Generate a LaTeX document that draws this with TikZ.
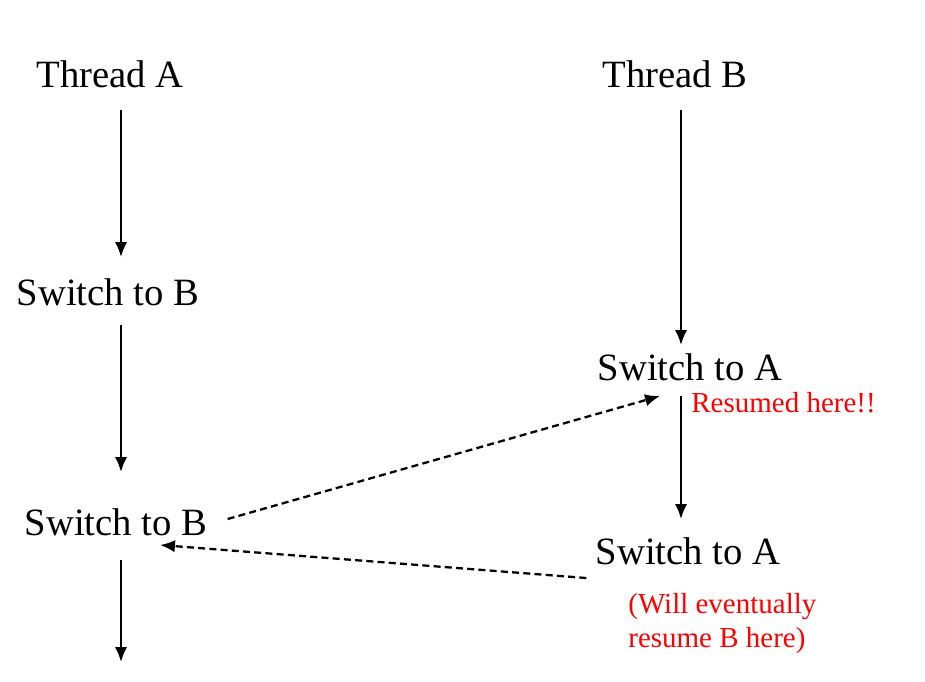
\documentclass[tikz,border=0pt]{standalone}
\usepackage{fontspec}
\setmainfont{Liberation Serif}
\usetikzlibrary{arrows.meta}
\begin{document}
\begin{tikzpicture}[x=0.02cm, y=-0.02cm,
% common options for the step labels:
label/.style = {inner sep=0, anchor=base, font=\fontsize{22}{26}\selectfont},
% common options for the red notes:
note/.style = {inner sep=0, anchor=base west, text=red, align=left,
            font=\fontsize{16.5}{18.8}\selectfont},
flow/.style = {-{Latex[length=8.5pt,width=7pt]}, line width=1.3pt},
jump/.style = {flow, dash pattern=on 4pt off 2.4pt}]
\useasboundingbox (0,0) rectangle (925,681);
\node[label] (thA) at (110,87) {Thread A};
\node[label] (thB) at (675,87) {Thread B};
\node[label] (swB1) at (108,305) {Switch to B};
\node[label] (swB2) at (116,535) {Switch to B};
\node[label] (swA1) at (690,380) {Switch to A};
\node[label] (swA2) at (688,564) {Switch to A};
\node[note] (resumed) at (691,412) {Resumed here!!};
\node[note] (later) at (628,647) {(Will eventually\\resume B here)};
\coordinate (endA) at (121,662);
\draw[flow] ([shift={(11,23)}]thA.base) to ([shift={(13,-48)}]swB1.base);
\draw[flow] ([shift={(13,20)}]swB1.base) to ([shift={(5,-63)}]swB2.base);
\draw[flow] ([shift={(5,25)}]swB2.base) to (endA);
\draw[flow] ([shift={(6,23)}]thB.base) to ([shift={(-9,-35)}]swA1.base);
\draw[flow] ([shift={(-9,16)}]swA1.base) to ([shift={(-7,-45)}]swA2.base);
\draw[jump] ([shift={(20,-16)}]swB2.base east) to ([shift={(-30,16)}]swA1.base);
\draw[jump] ([shift={(-9,14)}]swA2.base west) to ([shift={(44,10)}]swB2.base);
\end{tikzpicture}
\end{document}
